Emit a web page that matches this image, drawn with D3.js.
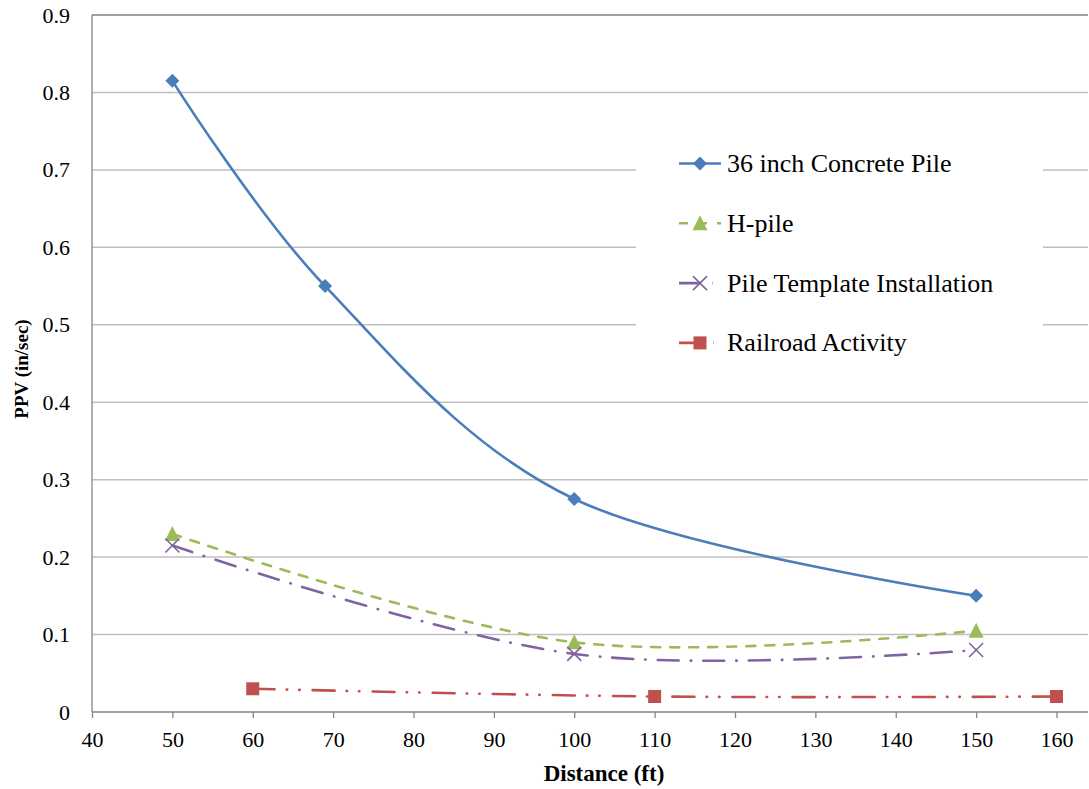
<!DOCTYPE html>
<html lang="en">
<head>
  <meta charset="UTF-8" />
  <title>PPV vs Distance</title>
  <script src="https://d3js.org/d3.v7.min.js"></script>
  <style>
    * { margin: 0; padding: 0; }
    body { background: #fff; width: 1089px; height: 789px; overflow: hidden; }
    svg { display: block; }
    svg text { font-family: "Liberation Serif", "Times New Roman", Times, "DejaVu Serif", serif; }
  </style>
</head>
<body>
  <svg id="chart" width="1089" height="789"></svg>
  <script>
    // values
    const xTicks = [40, 50, 60, 70, 80, 90, 100, 110, 120, 130, 140, 150, 160];
    const yTicks = [0, 0.1, 0.2, 0.3, 0.4, 0.5, 0.6, 0.7, 0.8, 0.9];

    const concreteX = [50, 69, 100, 150];
    const concreteY = [0.815, 0.55, 0.275, 0.15];
    const hpileX = [50, 100, 150];
    const hpileY = [0.23, 0.09, 0.105];
    const templateX = [50, 100, 150];
    const templateY = [0.215, 0.075, 0.08];
    const railX = [60, 110, 160];
    const railY = [0.03, 0.02, 0.02];

    const seriesNames = ['36 inch Concrete Pile', 'H-pile', 'Pile Template Installation', 'Railroad Activity'];

    const series = [
      { name: seriesNames[0], xs: concreteX, ys: concreteY, color: '#4A7EBB', dash: null, marker: 'diamond' },
      { name: seriesNames[1], xs: hpileX, ys: hpileY, color: '#9BBB59', dash: '9,10', marker: 'triangle' },
      { name: seriesNames[2], xs: templateX, ys: templateY, color: '#8064A2', dash: '21,12,0.5,12', marker: 'cross' },
      { name: seriesNames[3], xs: railX, ys: railY, color: '#C0504D', dash: '22,12,0.5,12,0.5,13', marker: 'square' }
    ];

    const svg = d3.select('#chart');
    const pLeft = 92, pRight = 1088, pTop = 15, pBottom = 712;

    const x = d3.scaleLinear().domain([40, 160]).range([pLeft, 1056.5]);
    const y = d3.scaleLinear().domain([0, 0.9]).range([pBottom, pTop]);

    // gridlines
    svg.append('g').selectAll('line').data(yTicks.filter(d => d > 0)).join('line')
      .attr('x1', pLeft).attr('x2', pRight)
      .attr('y1', d => y(d)).attr('y2', d => y(d))
      .attr('stroke', d => d === 0.9 ? '#7f7f7f' : '#bfbfbf')
      .attr('stroke-width', 1.5);

    // legend background hides gridlines
    svg.append('rect').attr('x', 636).attr('y', 125).attr('width', 407).attr('height', 250).attr('fill', '#fff');

    // axes
    const xAxis = d3.axisBottom(x).tickValues(xTicks).tickSize(6).tickSizeOuter(0).tickFormat(d3.format('d'));
    const gx = svg.append('g').attr('transform', `translate(0,${pBottom})`).call(xAxis);
    gx.select('.domain').remove();
    gx.append('line').attr('x1', pLeft).attr('x2', pRight).attr('stroke', '#868686').attr('stroke-width', 1.3);
    gx.selectAll('.tick line').attr('stroke', '#868686').attr('stroke-width', 1.3);
    gx.selectAll('.tick text').attr('font-size', 22).attr('fill', '#000').attr('y', 0).attr('dy', 35);

    const yAxis = d3.axisLeft(y).tickValues(yTicks).tickSize(0).tickFormat(d => d === 0 ? '0' : d3.format('.1f')(d));
    const gy = svg.append('g').attr('transform', `translate(${pLeft},0)`).call(yAxis);
    gy.select('.domain').remove();
    gy.append('line').attr('y1', pTop).attr('y2', pBottom).attr('stroke', '#868686').attr('stroke-width', 1.3);
    gy.selectAll('.tick text').attr('font-size', 22).attr('fill', '#000').attr('x', -22);

    // axis titles
    svg.append('text').attr('x', 604).attr('y', 781).attr('text-anchor', 'middle')
      .attr('font-size', 23).attr('font-weight', 'bold').text('Distance (ft)');
    svg.append('text').attr('transform', 'translate(28,369) rotate(-90)').attr('text-anchor', 'middle')
      .attr('font-size', 19).attr('font-weight', 'bold').text('PPV (in/sec)');

    function drawMarker(g, type, cx, cy, color) {
      if (type === 'diamond') {
        g.append('path').attr('d', `M${cx},${cy - 7}L${cx + 7},${cy}L${cx},${cy + 7}L${cx - 7},${cy}Z`).attr('fill', color);
      } else if (type === 'triangle') {
        g.append('path').attr('d', `M${cx},${cy - 8}L${cx + 7.5},${cy + 7}L${cx - 7.5},${cy + 7}Z`).attr('fill', color);
      } else if (type === 'cross') {
        g.append('path').attr('d', `M${cx - 7},${cy - 7}L${cx + 7},${cy + 7}M${cx - 7},${cy + 7}L${cx + 7},${cy - 7}`)
          .attr('stroke', color).attr('stroke-width', 1.6).attr('fill', 'none');
      } else {
        g.append('rect').attr('x', cx - 6.5).attr('y', cy - 6.5).attr('width', 13).attr('height', 13).attr('fill', color);
      }
    }

    const line = d3.line().curve(d3.curveCardinal.tension(0)).x(d => x(d[0])).y(d => y(d[1]));

    series.forEach(s => {
      const pts = s.xs.map((v, i) => [v, s.ys[i]]);
      const g = svg.append('g');
      g.append('path').attr('d', line(pts)).attr('fill', 'none')
        .attr('stroke', s.color).attr('stroke-width', 2.6)
        .attr('stroke-linecap', 'round')
        .attr('stroke-dasharray', s.dash);
      pts.forEach(p => drawMarker(g, s.marker, x(p[0]), y(p[1]), s.color));
    });

    // legend
    const leg = svg.append('g');
    series.forEach((s, i) => {
      const ly = 163.5 + i * 59.8;
      leg.append('line').attr('x1', 679).attr('x2', 721).attr('y1', ly).attr('y2', ly)
        .attr('stroke', s.color).attr('stroke-width', 2.6).attr('stroke-dasharray', s.dash);
      drawMarker(leg, s.marker, 700, ly, s.color);
      leg.append('text').attr('x', 727).attr('y', ly + 8.5).attr('font-size', 26).attr('fill', '#000').text(s.name);
    });
  </script>
</body>
</html>
